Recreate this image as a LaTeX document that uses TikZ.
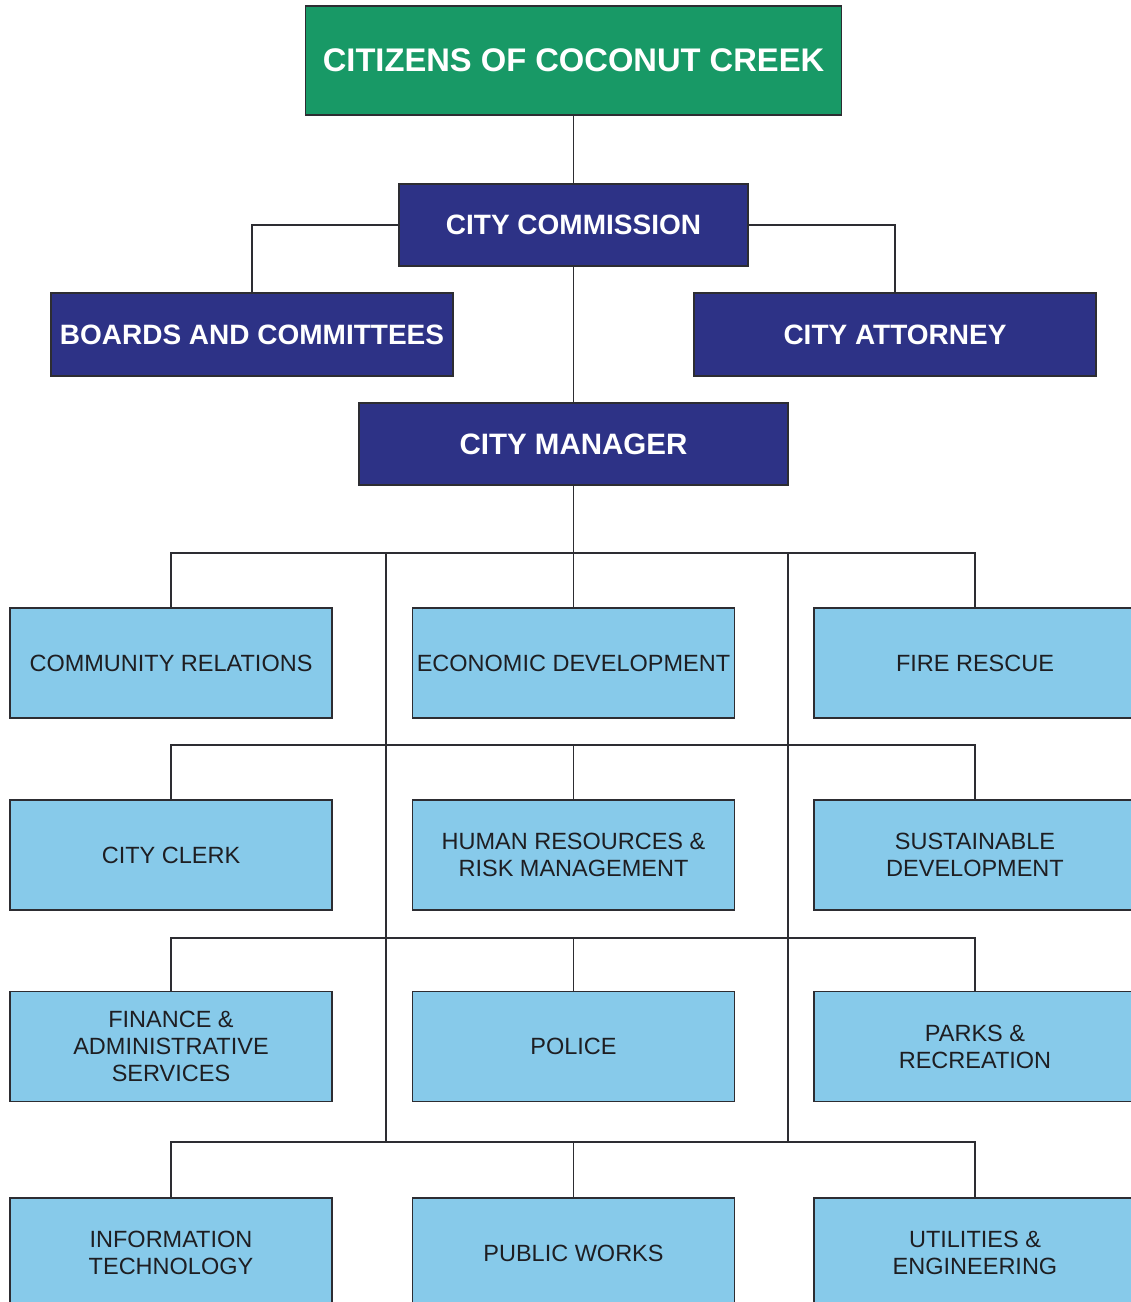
\documentclass[tikz,border=0pt]{standalone}
\usepackage{fontspec}
\setmainfont{Liberation Sans}
\begin{document}
\definecolor{citizengreen}{RGB}{24,153,102}
\definecolor{navybox}{RGB}{45,50,134}
\definecolor{deptblue}{RGB}{135,202,234}
\definecolor{edgegray}{RGB}{45,45,50}
\definecolor{labeltext}{RGB}{30,30,34}
\begin{tikzpicture}[x=1pt,y=-1pt,
  link/.style={draw=edgegray,line width=1.8pt},
  topbox/.style={draw=edgegray,line width=1.8pt,fill=citizengreen,text=white,
    inner sep=0pt,minimum width=536pt,minimum height=109pt,
    font=\fontsize{32.7}{36}\selectfont\bfseries},
  govbox/.style={draw=edgegray,line width=1.8pt,fill=navybox,text=white,
    inner sep=0pt,minimum height=82pt,
    font=\fontsize{28}{32}\selectfont\bfseries},
  deptbox/.style={draw=edgegray,line width=1.8pt,fill=deptblue,text=labeltext,
    inner sep=0pt,minimum width=322pt,minimum height=110pt,align=center,
    font=\fontsize{23.5}{27}\selectfont}]
\useasboundingbox (0,0) rectangle (1131,1302);
\clip (0,0) rectangle (1131,1302);
\fill[white] (0,0) rectangle (1131,1302);

% governing bodies
\node[topbox] (citz) at (573.5,60.5) {CITIZENS OF COCONUT CREEK};
\node[govbox,minimum width=349pt] (comm) at (573.5,225) {CITY COMMISSION};
\node[govbox,minimum width=402pt,minimum height=83pt] (board) at (252,334.5) {BOARDS AND COMMITTEES};
\node[govbox,minimum width=402pt,minimum height=83pt] (atty) at (895,334.5) {CITY ATTORNEY};
\node[govbox,minimum width=429pt,font=\fontsize{29.5}{33}\selectfont\bfseries] (mgr) at (573.5,444) {CITY MANAGER};

% departments
\node[deptbox] (cr)  at (171,663)    {COMMUNITY RELATIONS};
\node[deptbox] (ed)  at (573.5,663)  {ECONOMIC DEVELOPMENT};
\node[deptbox] (fr)  at (975,663)    {FIRE RESCUE};
\node[deptbox] (cc)  at (171,855)    {CITY CLERK};
\node[deptbox] (hr)  at (573.5,855)  {HUMAN RESOURCES \&\\RISK MANAGEMENT};
\node[deptbox] (sd)  at (975,855)    {SUSTAINABLE\\DEVELOPMENT};
\node[deptbox] (fin) at (171,1046.5) {FINANCE \&\\ADMINISTRATIVE\\SERVICES};
\node[deptbox] (pol) at (573.5,1046.5) {POLICE};
\node[deptbox] (pr)  at (975,1046.5) {PARKS \&\\RECREATION};
\node[deptbox] (it)  at (171,1253)   {INFORMATION\\TECHNOLOGY};
\node[deptbox] (pw)  at (573.5,1253) {PUBLIC WORKS};
\node[deptbox] (ue)  at (975,1253)   {UTILITIES \&\\ENGINEERING};

% bus points
\coordinate (bus1) at (573.5,553);
\coordinate (bus2) at (573.5,745);
\coordinate (bus3) at (573.5,938);
\coordinate (bus4) at (573.5,1142);
\coordinate (ltop) at (386,553);
\coordinate (lbot) at (386,1142);
\coordinate (rtop) at (788,553);
\coordinate (rbot) at (788,1142);

% upper chain
\draw[link] (citz.south) -- (comm.north);
\draw[link] (comm.west) -| (board.north);
\draw[link] (comm.east) -| (atty.north);
\draw[link] (comm.south) -- (mgr.north);
\draw[link] (mgr.south) -- (ed.north);

% department buses
\draw[link] (cr.north) |- (bus1) -| (fr.north);
\draw[link] (cc.north) |- (bus2) -| (sd.north);
\draw[link] (hr.north) -- (bus2);
\draw[link] (fin.north) |- (bus3) -| (pr.north);
\draw[link] (pol.north) -- (bus3);
\draw[link] (it.north) |- (bus4) -| (ue.north);
\draw[link] (pw.north) -- (bus4);
\draw[link] (ltop) -- (lbot);
\draw[link] (rtop) -- (rbot);
\end{tikzpicture}
\end{document}
